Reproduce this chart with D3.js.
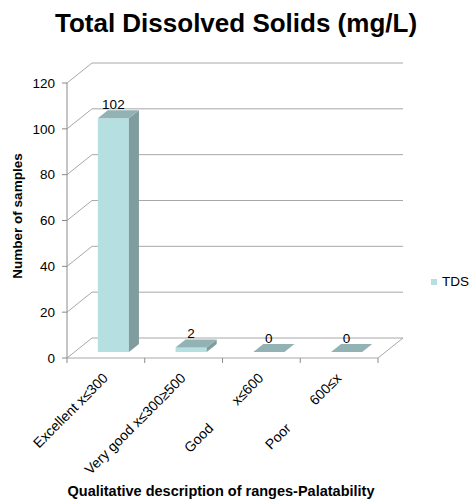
<!DOCTYPE html>
<html>
<head>
<meta charset="utf-8">
<script src="https://cdn.jsdelivr.net/npm/d3@7"></script>
<style>
  body { margin: 0; background: #fff; }
  text { font-family: "Liberation Sans", Arial, sans-serif; fill: #000; }
</style>
</head>
<body>
<div id="chart"></div>
<script>
// chart data
const catNames = ["Excellent", "Very good", "Good", "Poor"];
const catRanges = ["x≤300", "x≤300≥500", "x≤600", "600≤x"];
const tdsValues = [102, 2, 0, 0];
const yTicks = [0, 20, 40, 60, 80, 100, 120];
const seriesName = "TDS";

const width = 469, height = 499;
const plot = { left: 67, right: 378, top: 83, bottom: 358 };
const depth = { dx: 25, dy: -20 };   // 3d wall offset
const barFront = 0.3, barBack = 0.7; // bar position inside the depth

const svg = d3.select('#chart')
    .append('svg')
    .attr('width', width)
    .attr('height', height);

var x = d3.scaleBand()
    .domain(catNames)
    .range([plot.left, plot.right])
    .paddingInner(0.6)
    .paddingOuter(0.3);

var xStep = d3.scaleBand()
    .domain(catNames)
    .range([plot.left, plot.right]);

var y = d3.scaleLinear()
    .domain([0, 120])
    .range([plot.bottom, plot.top]);

const gridColor = "#a8a8a8", axisColor = "#8a8a8a";

// back wall gridlines + side wall diagonals
const walls = svg.append('g');
yTicks.forEach(t => {
    walls.append('line')
        .attr('x1', plot.left + depth.dx).attr('y1', y(t) + depth.dy)
        .attr('x2', plot.right + depth.dx).attr('y2', y(t) + depth.dy)
        .attr('stroke', gridColor);
    walls.append('line')
        .attr('x1', plot.left).attr('y1', y(t))
        .attr('x2', plot.left + depth.dx).attr('y2', y(t) + depth.dy)
        .attr('stroke', gridColor);
});

// floor edges
walls.append('line')
    .attr('x1', plot.left).attr('y1', y(0))
    .attr('x2', plot.right).attr('y2', y(0))
    .attr('stroke', gridColor);
walls.append('line')
    .attr('x1', plot.right).attr('y1', y(0))
    .attr('x2', plot.right + depth.dx).attr('y2', y(0) + depth.dy)
    .attr('stroke', gridColor);

// y axis
svg.append('line')
    .attr('x1', plot.left).attr('y1', y(120))
    .attr('x2', plot.left).attr('y2', y(0))
    .attr('stroke', axisColor);
yTicks.forEach(t => {
    svg.append('line')
        .attr('x1', plot.left - 5).attr('y1', y(t))
        .attr('x2', plot.left).attr('y2', y(t))
        .attr('stroke', axisColor);
    svg.append('text')
        .attr('x', 55).attr('y', y(t))
        .attr('dy', '0.35em')
        .attr('text-anchor', 'end')
        .style('font-size', '13.5px')
        .text(t);
});

// x ticks on the front floor edge
d3.range(catNames.length + 1).forEach(i => {
    const tx = plot.left + xStep.step() * i;
    svg.append('line')
        .attr('x1', tx).attr('y1', y(0))
        .attr('x2', tx).attr('y2', y(0) + 5)
        .attr('stroke', axisColor);
});

// 3d bars
const frontCol = "#b6dfe2", sideCol = "#7f9c9e", topCol = "#93b2b4";
const bars = svg.append('g');
tdsValues.forEach((v, i) => {
    const fx = x(catNames[i]) + depth.dx * barFront;
    const fy = depth.dy * barFront;
    const w = x.bandwidth();
    const ddx = depth.dx * (barBack - barFront);
    const ddy = depth.dy * (barBack - barFront);
    const yb = y(0) + fy, yt = y(v) + fy;
    const g = bars.append('g');
    g.append('rect')
        .attr('x', fx).attr('y', yt)
        .attr('width', w).attr('height', yb - yt)
        .attr('fill', frontCol);
    g.append('path')
        .attr('d', `M${fx + w},${yt}L${fx + w + ddx},${yt + ddy}L${fx + w + ddx},${yb + ddy}L${fx + w},${yb}Z`)
        .attr('fill', sideCol);
    g.append('path')
        .attr('d', `M${fx},${yt}L${fx + ddx},${yt + ddy}L${fx + w + ddx},${yt + ddy}L${fx + w},${yt}Z`)
        .attr('fill', topCol);
    // data label
    svg.append('text')
        .attr('x', fx + w / 2)
        .attr('y', yt - 9)
        .attr('text-anchor', 'middle')
        .style('font-size', '13.5px')
        .text(v);
});

// category labels, rotated
catNames.forEach((c, i) => {
    const ax = xStep(c) + xStep.bandwidth() / 2 + 3;
    const ay = 379;
    const t = svg.append('text')
        .attr('transform', `translate(${ax},${ay}) rotate(-45)`)
        .attr('text-anchor', 'end')
        .style('font-size', '14px');
    t.append('tspan').text(c);
    t.append('tspan')
        .attr('dx', i >= 2 ? 33 : 3.9)
        .text(catRanges[i]);
});

// title
svg.append('text')
    .attr('x', 236).attr('y', 32)
    .attr('text-anchor', 'middle')
    .style('font-size', '26px')
    .style('font-weight', 'bold')
    .text('Total Dissolved Solids (mg/L)');

// y axis title
svg.append('text')
    .attr('transform', 'translate(22,216) rotate(-90)')
    .attr('text-anchor', 'middle')
    .style('font-size', '13.5px')
    .style('font-weight', 'bold')
    .text('Number of samples');

// x axis title
svg.append('text')
    .attr('x', 221).attr('y', 496)
    .attr('text-anchor', 'middle')
    .style('font-size', '14.5px')
    .style('font-weight', 'bold')
    .text('Qualitative description of ranges-Palatability');

// legend
svg.append('rect')
    .attr('x', 431).attr('y', 279)
    .attr('width', 6).attr('height', 6)
    .attr('fill', frontCol);
svg.append('text')
    .attr('x', 442).attr('y', 286)
    .style('font-size', '13.5px')
    .text(seriesName);
</script>
</body>
</html>
